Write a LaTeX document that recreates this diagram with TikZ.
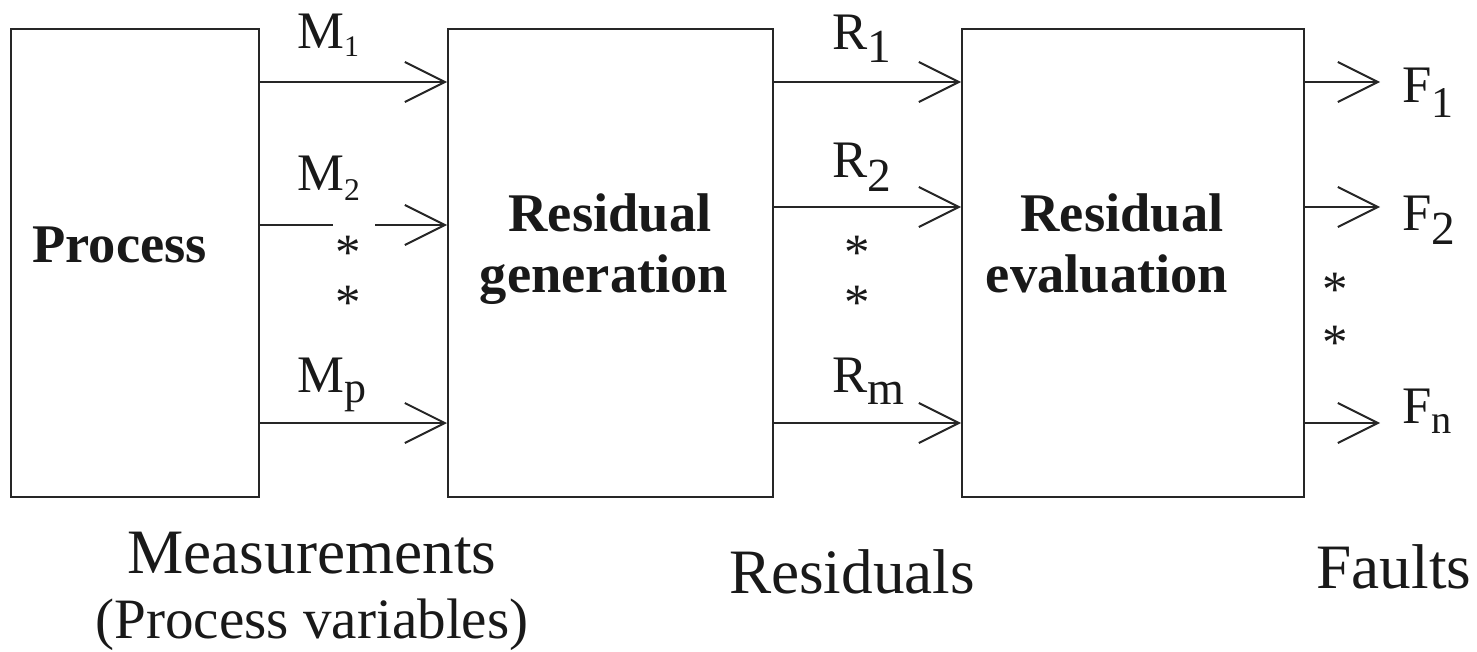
\documentclass[tikz,border=0pt]{standalone}
\usepackage{fontspec}
\setmainfont{Liberation Serif}
\usetikzlibrary{arrows.meta}
\newcommand\lbl[4]{#1\raisebox{-#4}{\fontsize{#3}{#3}\selectfont #2}}
\begin{document}
\begin{tikzpicture}[x=0.02cm,y=-0.02cm,
  box/.style={draw=black!85,line width=1.1pt,inner sep=0,anchor=north west},
  conn/.style={draw=black!85,line width=1.1pt},
  arr/.style={conn,-{Straight Barb[length=0.8cm,width=0.8cm,line width=1.1pt]}},
  bt/.style={inner sep=0,font=\fontsize{31pt}{36pt}\selectfont\bfseries,text=black!90},
  lb/.style={inner sep=0,anchor=base west,font=\fontsize{30pt}{34pt}\selectfont,text=black!90},
  bl/.style={inner sep=0,anchor=base,font=\fontsize{36pt}{40pt}\selectfont,text=black!90},
  ast/.style={inner sep=0,font=\fontsize{29pt}{30pt}\selectfont,text=black!90}]
\useasboundingbox (0,0) rectangle (1477,652);
% boxes
\node[box,minimum width=4.96cm,minimum height=9.36cm] (P) at (10,28) {};
\node[box,minimum width=6.5cm,minimum height=9.36cm] (RG) at (447,28) {};
\node[box,minimum width=6.84cm,minimum height=9.36cm] (RE) at (961,28) {};
% box texts
\node[bt,anchor=base west] (tP) at (32,262) {Process};
\node[bt,anchor=base] (tRG1) at (610,231) {Residual};
\node[bt,anchor=base] (tRG2) at (604,292) {generation};
\node[bt,anchor=base] (tRE1) at (1122,231) {Residual};
\node[bt,anchor=base] (tRE2) at (1107,292) {evaluation};
% measurement arrows
\draw[arr] (P.east |- 0,82) -- (RG.west |- 0,82);
\coordinate (m2a) at (333,225);
\coordinate (m2b) at (375,225);
\draw[conn] (P.east |- m2a) -- (m2a);
\draw[arr] (m2b) -- (RG.west |- m2b);
\draw[arr] (P.east |- 0,423) -- (RG.west |- 0,423);
% residual arrows
\draw[arr] (RG.east |- 0,82) -- (RE.west |- 0,82);
\draw[arr] (RG.east |- 0,207) -- (RE.west |- 0,207);
\draw[arr] (RG.east |- 0,423) -- (RE.west |- 0,423);
% fault arrows
\coordinate (f1e) at (1380,82);
\coordinate (f2e) at (1380,207);
\coordinate (fne) at (1380,423);
\draw[arr] (RE.east |- f1e) -- (f1e);
\draw[arr] (RE.east |- f2e) -- (f2e);
\draw[arr] (RE.east |- fne) -- (fne);
% labels
\node[lb] (m1) at (297,49) {\lbl{M}{1}{17pt}{4.5pt}};
\node[lb] (m2) at (297,190) {\lbl{M}{2}{18pt}{5.7pt}};
\node[lb] (mp) at (297,392) {\lbl{M}{p}{25pt}{6pt}};
\node[lb] (r1) at (832,50) {\lbl{R}{1}{27pt}{7pt}};
\node[lb] (r2) at (832,177) {\lbl{R}{2}{27pt}{8.5pt}};
\node[lb] (rm) at (832,392) {\lbl{R}{m}{27pt}{7pt}};
\node[lb] (f1) at (1402,103) {\lbl{F}{1}{25pt}{8pt}};
\node[lb] (f2) at (1402,230) {\lbl{F}{2}{27pt}{8.5pt}};
\node[lb] (fn) at (1402,423) {\lbl{F}{n}{23pt}{5.7pt}};
% asterisks
\node[ast] (a1) at (348,253) {*};
\node[ast] (a2) at (348,303) {*};
\node[ast] (a3) at (857,253) {*};
\node[ast] (a4) at (857,303) {*};
\node[ast] (a5) at (1335,290) {*};
\node[ast] (a6) at (1335,343) {*};
% bottom labels
\node[bl] (lm) at (312,573) {Measurements};
\node[bl,font=\fontsize{32.5pt}{36pt}\selectfont] (lpv) at (312,638) {(Process variables)};
\node[bl] (lr) at (852,593) {Residuals};
\node[bl] (lf) at (1394,588) {Faults};
\end{tikzpicture}
\end{document}
